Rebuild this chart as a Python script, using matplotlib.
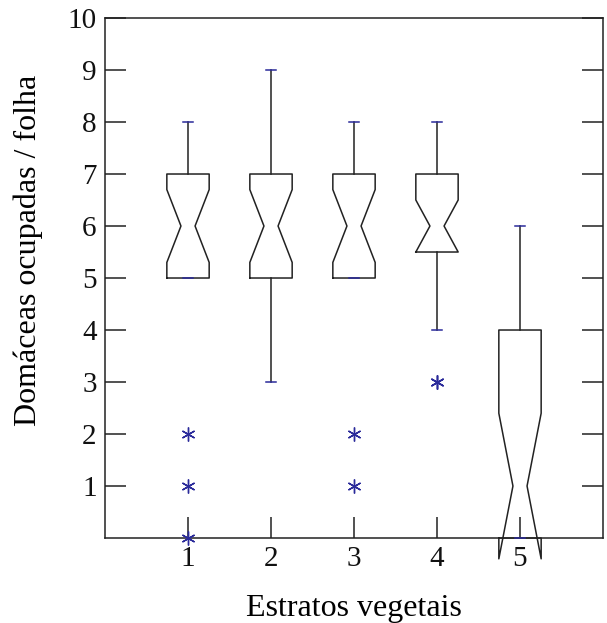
import matplotlib.pyplot as plt

plt.rcParams['font.family'] = ['Liberation Serif', 'DejaVu Serif']

# box statistics (one entry per stratum)
strata = [1, 2, 3, 4, 5]
q1 = [5, 5, 5, 5.5, 0]
med = [6, 6, 6, 6, 1]
q3 = [7, 7, 7, 7, 4]
notch_lo = [5.3, 5.3, 5.3, 5.5, -0.4]
notch_hi = [6.7, 6.7, 6.7, 6.5, 2.4]
whis_lo = [5, 3, 5, 4, 0]
whis_hi = [8, 9, 8, 8, 6]
outliers = [[2, 1, 0], [], [2, 1], [3, 3], []]

box_col = '#222222'
blue = '#2a2a9a'
hw = 0.255      # half box width
nw = 0.085      # half notch width
cw = 0.055      # half cap width

fig = plt.figure(figsize=(6.07, 6.23), dpi=100)
ax = fig.add_axes([0.173, 0.1364, 0.8204, 0.8347])

for i, x in enumerate(strata):
    xs = [x - hw, x - hw, x - nw, x - hw, x - hw, x + hw, x + hw, x + nw, x + hw, x + hw, x - hw]
    ys = [q1[i], notch_lo[i], med[i], notch_hi[i], q3[i], q3[i], notch_hi[i], med[i], notch_lo[i], q1[i], q1[i]]
    ax.plot(xs, ys, color=box_col, lw=1.1, clip_on=False, zorder=3)
    # whiskers
    ax.plot([x, x], [q3[i], whis_hi[i]], color=box_col, lw=1.1, zorder=2)
    ax.plot([x, x], [q1[i], whis_lo[i]], color=box_col, lw=1.1, zorder=2)
    # caps
    ax.plot([x - cw, x + cw], [whis_hi[i], whis_hi[i]], color=blue, lw=1.1, zorder=4, clip_on=False)
    ax.plot([x - cw, x + cw], [whis_lo[i], whis_lo[i]], color=blue, lw=1.1, zorder=4, clip_on=False)
    if outliers[i]:
        ax.plot([x] * len(outliers[i]), outliers[i], linestyle='none', marker=(6, 2, 0),
                markersize=10, color=blue, markeredgewidth=1.0, clip_on=False, zorder=5)

ax.set_xlim(0, 6)
ax.set_ylim(0, 10)
ax.set_xticks(strata)
ax.set_xticklabels([str(s) for s in strata])
ax.set_yticks(range(1, 11))
ax.tick_params(axis='both', direction='in', length=15, width=1.1, labelsize=21, colors='#222222',
               labelcolor='#111111', pad=6)
ax.tick_params(axis='y', right=True)
for s in ax.spines.values():
    s.set_linewidth(1.1)
    s.set_color('#222222')

ax.set_xlabel('Estratos vegetais', fontsize=23, va='baseline')
ax.xaxis.set_label_coords(0.5, -0.15)
ax.set_ylabel('Domáceas ocupadas / folha', fontsize=23, va='center')
ax.yaxis.set_label_coords(-0.154, 0.554)

fig.savefig('out.png', dpi=100)
